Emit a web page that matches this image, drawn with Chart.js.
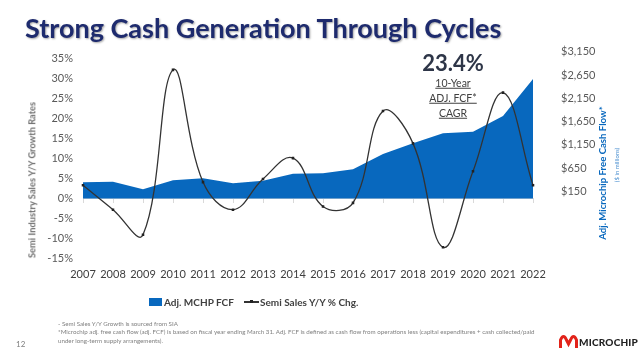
<!DOCTYPE html>
<html>
<head>
  <title>Strong Cash Generation Through Cycles</title>
  <script src="https://cdn.jsdelivr.net/npm/chart.js"></script>
  <style>
    body { margin: 0; width: 640px; height: 353px; overflow: hidden; background: #fff; font-family: Lato, sans-serif; }
    #chartCanvas { position: absolute; left: 0; top: 0; }
    .txt { position: absolute; white-space: nowrap; line-height: 1; }
    .mid { transform: translate(-50%, -50%); }
    .rot { transform: translate(-50%, -50%) rotate(-90deg); }
    .note { left: 58px; font-size: 6.2px; color: #808080; }
  </style>
</head>
<body>
  <canvas id="chartCanvas" width="640" height="353"></canvas>

  <div class="txt" style="left:25px; top:14px; font-size:27px; font-weight:700; color:#1e2b6e; text-shadow:1px 1px 2px rgba(0,0,0,0.35);">Strong Cash Generation Through Cycles</div>

  <div class="txt mid" style="left:453px; top:63px; font-size:22px; font-weight:700; color:#2e3648;">23.4%</div>
  <div class="txt mid" style="left:453px; top:83px; font-size:10.5px; color:#404040; text-decoration:underline;">10-Year</div>
  <div class="txt mid" style="left:453px; top:98px; font-size:10.5px; color:#404040; text-decoration:underline;">ADJ. FCF*</div>
  <div class="txt mid" style="left:453px; top:113px; font-size:10.5px; color:#404040; text-decoration:underline;">CAGR</div>

  <div class="txt rot" style="left:32px; top:180px; font-size:9.3px; font-weight:700; color:#6f6f6f;">Semi Industry Sales Y/Y Growth Rates</div>
  <div class="txt rot" style="left:603px; top:173px; font-size:9.6px; font-weight:700; color:#0868be;">Adj. Microchip Free Cash Flow*</div>
  <div class="txt rot" style="left:617px; top:165px; font-size:6px; color:#4a8fd0;">($ in millions)</div>

  <!-- legend -->
  <div style="position:absolute; left:149px; top:298px; width:13px; height:8px; background:#0868be;"></div>
  <div class="txt" style="left:164px; top:297px; font-size:10px; font-weight:700; color:#404040;">Adj. MCHP FCF</div>
  <div style="position:absolute; left:244px; top:301px; width:15px; height:1.5px; background:#333;"></div>
  <div style="position:absolute; left:250px; top:300px; width:3px; height:3px; background:#222;"></div>
  <div class="txt" style="left:260px; top:297px; font-size:10px; font-weight:700; color:#404040;">Semi Sales Y/Y % Chg.</div>

  <!-- footnotes -->
  <div class="txt note" style="top:321px;">- Semi Sales Y/Y Growth is sourced from SIA</div>
  <div class="txt note" style="top:329px;">*Microchip adj. free cash flow (adj. FCF) is based on fiscal year ending March 31. Adj. FCF is defined as cash flow from operations less (capital expenditures + cash collected/paid</div>
  <div class="txt note" style="top:338px;">under long-term supply arrangements).</div>
  <div class="txt" style="left:16px; top:340px; font-size:8px; color:#7f7f7f;">12</div>

  <!-- logo -->
  <svg style="position:absolute; left:559px; top:333px;" width="19" height="16" viewBox="0 0 19 16">
    <path d="M1.5,15 L1.5,7 Q4.5,0 7.5,7 L9.5,11 L11.5,7 Q14.5,0 17.5,7 L17.5,15" fill="none" stroke="#e2231a" stroke-width="3"/>
  </svg>
  <div class="txt" style="left:579px; top:337px; font-size:10px; font-weight:900; color:#222; letter-spacing:0.2px;">MICROCHIP</div>

<script>
// fiscal years on the x axis
const years = ['2007', '2008', '2009', '2010', '2011', '2012', '2013', '2014',
               '2015', '2016', '2017', '2018', '2019', '2020', '2021', '2022'];

// adj. MCHP free cash flow, $ millions (right axis)
const fcf = [348, 360, 197, 390, 434, 326, 382, 532, 540, 626, 955, 1185, 1399, 1434, 1770, 2565];

// semi industry sales y/y growth, % (left axis)
const semiGrowth = [3.2, -2.9, -9.2, 32.1, 4.0, -2.9, 4.8, 10.0, -2.1, -1.2, 21.8, 13.7, -12.3, 6.7, 26.4, 3.2];

// tick labels on both value axes
const pctTicks = [-15, -10, -5, 0, 5, 10, 15, 20, 25, 30, 35];
const dollarTicks = [150, 650, 1150, 1650, 2150, 2650, 3150];

Chart.defaults.font.family = 'Lato, sans-serif';
Chart.defaults.font.size = 11;
Chart.defaults.color = '#595959';

const options = {
  data: {
    labels: years,
    datasets: [{
      type: 'line',
      label: 'Semi Sales Y/Y % Chg.',
      data: semiGrowth,
      yAxisID: 'y',
      order: 0,
      borderColor: '#333',
      borderWidth: 1.3,
      tension: 0.4,
      pointStyle: 'rect',
      pointRadius: 1.8,
      pointBackgroundColor: '#222',
      pointBorderWidth: 0
    }, {
      type: 'line',
      label: 'Adj. MCHP FCF',
      data: fcf,
      yAxisID: 'y1',
      order: 1,
      fill: 'origin',
      backgroundColor: '#0868be',
      borderWidth: 0,
      pointRadius: 0,
      tension: 0
    }]
  },
  options: {
    responsive: false,
    animation: false,
    layout: { padding: { left: 0, right: 0, top: 51.7, bottom: 65 } },
    plugins: { legend: { display: false }, tooltip: { enabled: false } },
    scales: {
      x: {
        type: 'category',
        offset: false,
        grid: { display: false, drawTicks: false },
        border: { display: false },
        ticks: { padding: 10, maxRotation: 0, autoSkip: false, color: '#404040' },
        afterFit: (s) => { s.height = 30; }
      },
      // zero line with small tick marks, sitting on 0%
      x2: {
        type: 'category',
        position: { y: 0 },
        offset: false,
        ticks: { display: false },
        grid: { drawOnChartArea: false, drawTicks: true, tickLength: 4, color: '#d9d9d9' },
        border: { display: true, color: '#d9d9d9' }
      },
      y: {
        position: 'left',
        min: -15,
        max: 36.65,
        grid: { display: false, drawTicks: false },
        border: { display: false },
        ticks: { padding: 10, callback: (v) => v + '%' },
        afterBuildTicks: (s) => { s.ticks = pctTicks.map(v => ({ value: v })); },
        afterFit: (s) => { s.width = 83; }
      },
      y1: {
        position: 'right',
        min: -1277,
        max: 3150,
        grid: { display: false, drawTicks: false },
        border: { display: false },
        ticks: { padding: 28, callback: (v) => '$' + v.toLocaleString('en-US') },
        afterBuildTicks: (s) => { s.ticks = dollarTicks.map(v => ({ value: v })); },
        afterFit: (s) => { s.width = 107; }
      }
    }
  }
};

let chart = new Chart(document.getElementById('chartCanvas'), options);
</script>
</body>
</html>
